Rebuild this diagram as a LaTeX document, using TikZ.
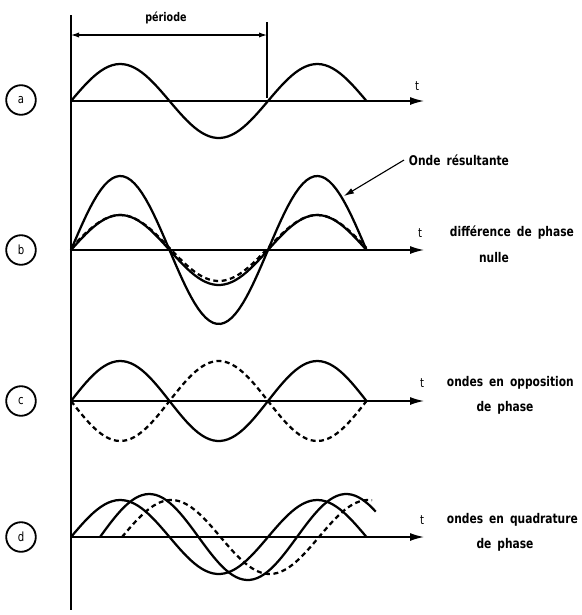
\documentclass[tikz,border=0pt]{standalone}
\usepackage{fontspec}
\setmainfont{DejaVu Sans}[FakeStretch=0.8]
\usetikzlibrary{arrows.meta}
\newcommand\legendfont{\bfseries\fontsize{9.5}{11}\selectfont\spaceskip 0.45em plus 0.1em\relax}

\begin{document}
\begin{tikzpicture}[x=0.25mm, y=-0.25mm,
    wave/.style={line width=1.6pt},
    dashwave/.style={line width=1.6pt, dash pattern=on 3.5pt off 2.5pt},
    axis/.style={line width=1pt, -{Latex[length=3.5mm, width=2mm]}},
    tag/.style={draw, circle, line width=1.3pt, minimum size=7.4mm, inner sep=0pt, font=\small},
    legend/.style={font=\legendfont}]
  \useasboundingbox (0,0) rectangle (582,615);

  % Vertical axis
  \coordinate (top) at (71,15);
  \coordinate (bottom) at (71,610);
  \draw[line width=1pt] (top) -- (bottom);

  % Period
  \coordinate (perStart) at (71,35);
  \coordinate (perEnd) at (267,35);
  \coordinate (tickTop) at (267,22);
  \coordinate (tickBot) at (267,98);
  \draw[line width=0.8pt] (tickTop) -- (tickBot);
  \draw[line width=0.8pt, {Latex[length=2mm, width=1.3mm]}-{Latex[length=2mm, width=1.3mm]}] (perStart) -- (perEnd);
  \node[font=\bfseries\fontsize{8.5}{10}\selectfont] (periode) at (166,18) {période};

  % Panel a
  \node[tag] (tagA) at (21,100) {a};
  \coordinate (originA) at (71,101);
  \coordinate (endA) at (424,101);
  \draw[axis] (originA) -- (endA);
  \node[font=\small] (tA) at (417,86) {t};
  \draw[wave] plot[domain=0:1.5, samples=80] ({71+197*\x}, {101-37*sin(360*\x)});

  % Panel b
  \node[tag] (tagB) at (21,250) {b};
  \coordinate (originB) at (71,250);
  \coordinate (endB) at (424,250);
  \draw[axis] (originB) -- (endB);
  \node[font=\small] (tB) at (420,233) {t};
  \node[legend, anchor=west] (diffB) at (445,233) {différence de phase};
  \node[legend] (nulleB) at (494,258) {nulle};
  \draw[wave] plot[domain=0:1.5, samples=80] ({71+197*\x}, {250-74*sin(360*\x)});
  \draw[wave] plot[domain=0:1.5, samples=80] ({71+197*\x}, {250-35*sin(360*\x)});
  \draw[dashwave] plot[domain=0:1.5, samples=80] ({71+197*\x}, {250-33*sin(360*\x)-2});
  % Resulting wave
  \node[legend, anchor=west] (resultante) at (404,160) {Onde résultante};
  \coordinate (hitB) at (344,196);
  \draw[line width=0.8pt, -{Latex[length=2.5mm, width=1.5mm]}] (resultante.west) -- (hitB);

  % Panel c
  \node[tag] (tagC) at (21,401) {c};
  \coordinate (originC) at (71,401);
  \coordinate (endC) at (424,401);
  \draw[axis] (originC) -- (endC);
  \node[font=\small] (tC) at (422,383) {t};
  \node[legend, anchor=west] (ondesC) at (442,383) {ondes en opposition};
  \node[legend] (phaseC) at (505,408) {de phase};
  \draw[wave] plot[domain=0:1.5, samples=80] ({71+197*\x}, {401-40*sin(360*\x)});
  \draw[dashwave] plot[domain=0:1.5, samples=80] ({71+197*\x}, {401+40*sin(360*\x)});

  % Panel d
  \node[tag] (tagD) at (21,537) {d};
  \coordinate (originD) at (71,537);
  \coordinate (endD) at (424,537);
  \draw[axis] (originD) -- (endD);
  \node[font=\small] (tD) at (422,520) {t};
  \node[legend, anchor=west] (ondesD) at (442,520) {ondes en quadrature};
  \node[legend] (phaseD) at (505,545) {de phase};
  \draw[wave] plot[domain=0:1.5, samples=80] ({71+197*\x}, {537-37*sin(360*\x)});
  \draw[wave] plot[domain=0:1.4, samples=80] ({100+197*\x}, {537-43*sin(360*\x)});
  \draw[dashwave] plot[domain=0:1.27, samples=80] ({122+197*\x}, {537-37*sin(360*\x)});

\end{tikzpicture}
\end{document}
